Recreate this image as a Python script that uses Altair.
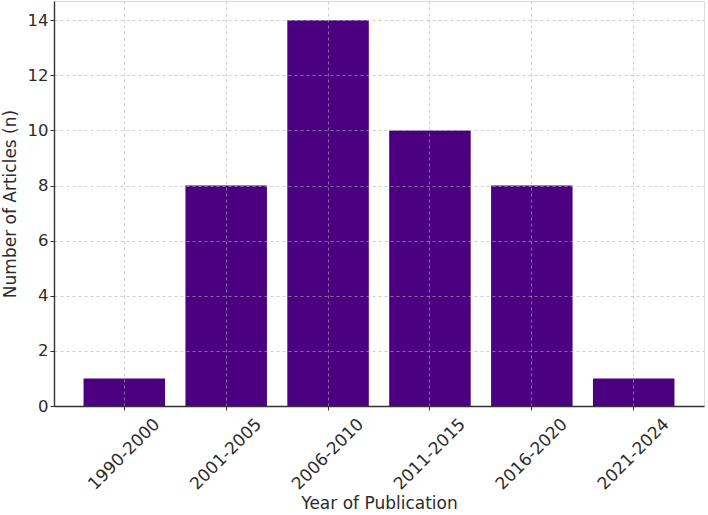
import altair as alt
import pandas as pd

periods = ["1990-2000", "2001-2005", "2006-2010", "2011-2015", "2016-2020", "2021-2024"]
counts = [1, 8, 14, 10, 8, 1]

df = pd.DataFrame({"period": periods, "count": counts})

FONT = "DejaVu Sans"
TXT = "#2b2b2b"

chart = alt.Chart(df).mark_bar(color="#4B0082").encode(
    x=alt.X(
        "period:N",
        sort=periods,
        title="Year of Publication",
        scale=alt.Scale(paddingInner=0.2, paddingOuter=0.29),
        axis=alt.Axis(
            labelAngle=-45,
            labelAlign="center",
            labelBaseline="middle",
            labelFont=FONT,
            labelFontSize=17,
            labelColor=TXT,
            labelPadding=44,
            labelOverlap=False,
            titleFont=FONT,
            titleFontSize=17,
            titleFontWeight="normal",
            titleColor=TXT,
            titlePadding=3,
            grid=True,
            gridDash=[3, 3],
            gridColor="#b0b0b0",
            gridOpacity=0.6,
            bandPosition=0.5,
            domainColor="#333333",
            domainWidth=1.4,
            tickColor="#333333",
            tickSize=4,
            zindex=1,
        ),
    ),
    y=alt.Y(
        "count:Q",
        title="Number of Articles (n)",
        scale=alt.Scale(domain=[0, 14.7], nice=False, zero=True),
        axis=alt.Axis(
            values=[0, 2, 4, 6, 8, 10, 12, 14],
            labelFont=FONT,
            labelFontSize=16.5,
            labelColor=TXT,
            labelPadding=2,
            titleFont=FONT,
            titleFontSize=17,
            titleFontWeight="normal",
            titleColor=TXT,
            titlePadding=8,
            grid=True,
            gridDash=[3, 3],
            gridColor="#b0b0b0",
            gridOpacity=0.6,
            domainColor="#333333",
            domainWidth=1.4,
            tickColor="#333333",
            tickSize=4,
            zindex=1,
        ),
    ),
).properties(
    width=650,
    height=405,
    autosize=alt.AutoSizeParams(type="none"),
    padding={"left": 54, "top": 1, "right": 4, "bottom": 109},
).configure_view(stroke=None).configure(background="white")

chart.save("out.html", embed_options={"renderer": "svg", "actions": False})
